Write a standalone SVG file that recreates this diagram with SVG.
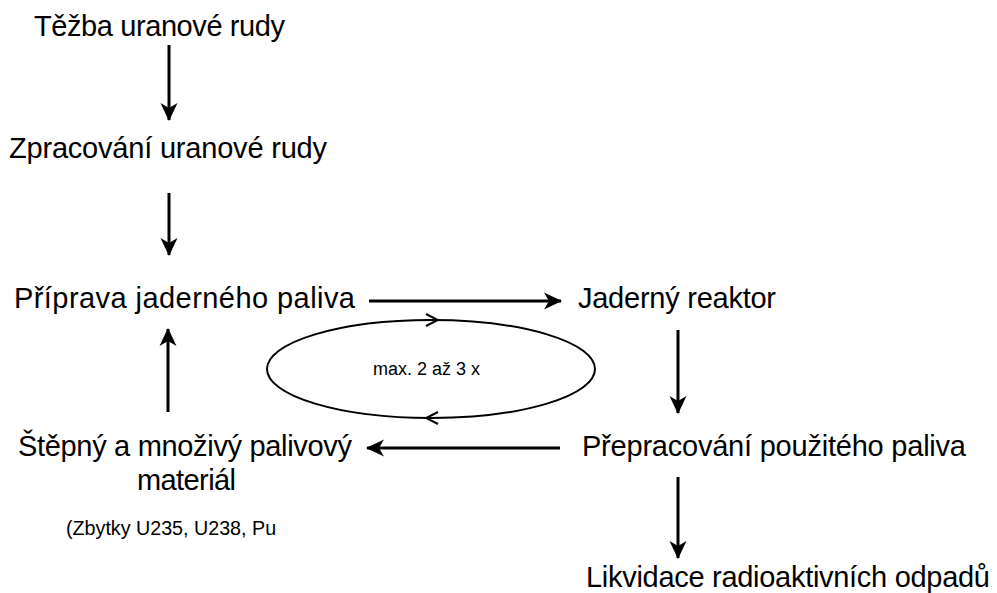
<svg xmlns="http://www.w3.org/2000/svg" width="997" height="593" viewBox="0 0 997 593">
  <defs>
    <style>
      .t { font-family: "Liberation Sans", Arial, sans-serif; font-size: 29px; fill: #000; }
      .s { font-family: "Liberation Sans", Arial, sans-serif; font-size: 19.7px; fill: #000; }
      .m { font-family: "Liberation Sans", Arial, sans-serif; font-size: 18px; fill: #000; }
      .c { stroke: #000; stroke-width: 3; fill: none; }
      .e { stroke: #000; stroke-width: 2; fill: none; }
    </style>
    <marker id="ah" markerUnits="userSpaceOnUse" markerWidth="20" markerHeight="20" viewBox="0 0 20 20" refX="18" refY="10" orient="auto">
      <path d="M1,1.5 L19,10 L1,18.5 L6,10 Z" fill="#000"/>
    </marker>
    <marker id="oh" markerUnits="userSpaceOnUse" markerWidth="16" markerHeight="16" viewBox="0 0 16 16" refX="14" refY="8" orient="auto">
      <path d="M2,2 L14,8 L2,14" fill="none" stroke="#000" stroke-width="2"/>
    </marker>
  </defs>
  <rect width="997" height="593" fill="#fff"/>

  <g id="n1"><text class="t" x="34" y="36" textLength="251" lengthAdjust="spacing">Těžba uranové rudy</text></g>
  <g id="n2"><text class="t" x="9" y="158" textLength="318" lengthAdjust="spacing">Zpracování uranové rudy</text></g>
  <g id="n3"><text class="t" x="14" y="308" textLength="341" lengthAdjust="spacing">Příprava jaderného paliva</text></g>
  <g id="n4"><text class="t" x="578" y="308" textLength="198" lengthAdjust="spacing">Jaderný reaktor</text></g>
  <g id="n5"><text class="t" x="582" y="456" textLength="384" lengthAdjust="spacing">Přepracování použitého paliva</text></g>
  <g id="n6">
    <text class="t" x="18" y="456" textLength="334" lengthAdjust="spacing">Štěpný a množivý palivový</text>
    <text class="t" x="137" y="490" textLength="99" lengthAdjust="spacing">materiál</text>
    <text class="s" x="66" y="535">(Zbytky U235, U238, Pu</text>
  </g>
  <g id="n7"><text class="t" x="586" y="587" textLength="404" lengthAdjust="spacing">Likvidace radioaktivních odpadů</text></g>
  <g id="loop">
    <ellipse class="e" cx="431" cy="369" rx="164" ry="49"/>
    <text class="m" x="373" y="375">max. 2 až 3 x</text>
  </g>

  <g id="connectors">
    <line class="c" x1="169" y1="45" x2="169" y2="120" marker-end="url(#ah)"/>
    <line class="c" x1="169" y1="193" x2="169" y2="255" marker-end="url(#ah)"/>
    <line class="c" x1="369" y1="301" x2="561" y2="301" marker-end="url(#ah)"/>
    <line class="c" x1="678" y1="330" x2="678" y2="413" marker-end="url(#ah)"/>
    <line class="c" x1="560" y1="448" x2="367" y2="448" marker-end="url(#ah)"/>
    <line class="c" x1="168" y1="412" x2="168" y2="329" marker-end="url(#ah)"/>
    <line class="c" x1="678" y1="477" x2="678" y2="558" marker-end="url(#ah)"/>
    <path class="e" d="M425,320 L438,320" marker-end="url(#oh)"/>
    <path class="e" d="M433,418 L426,418" marker-end="url(#oh)"/>
  </g>
</svg>
